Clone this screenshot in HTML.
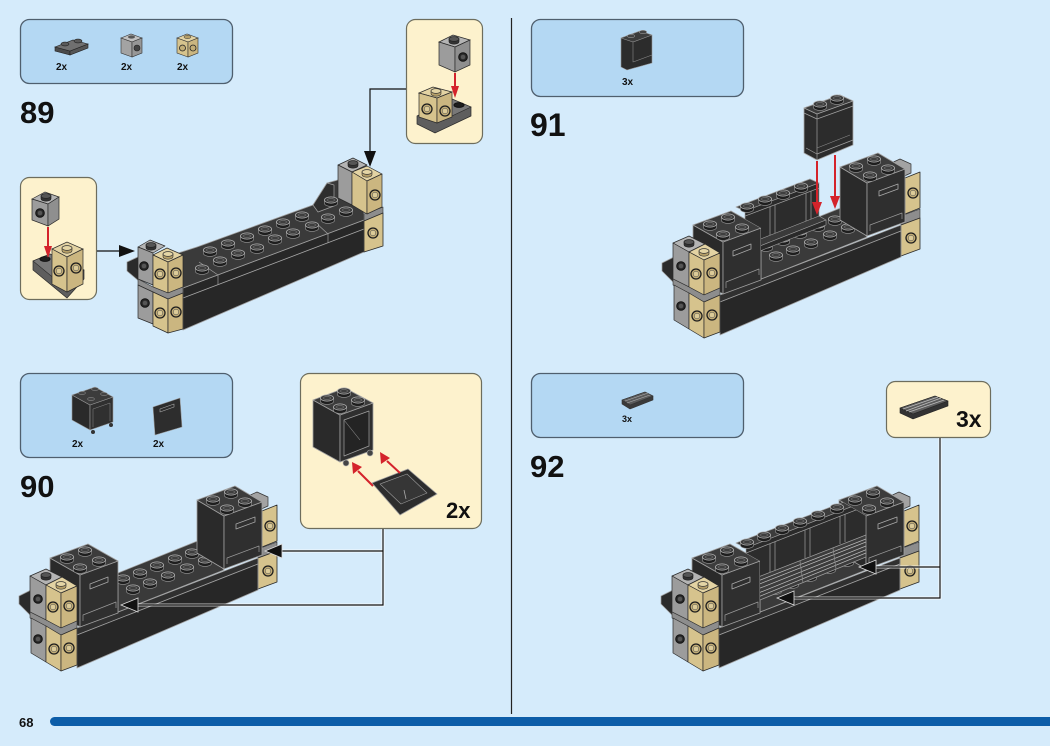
<!DOCTYPE html>
<html><head><meta charset="utf-8"><style>
html,body{margin:0;padding:0;background:#d5ebfb;}
svg{display:block;font-family:"Liberation Sans",sans-serif;}
</style></head><body>
<svg width="1050" height="746" viewBox="0 0 1050 746" xmlns="http://www.w3.org/2000/svg" xmlns:xlink="http://www.w3.org/1999/xlink">
<defs>
 <g id="st">
  <path d="M-6.6 0v3.3a6.6 3.1 0 0 0 13.2 0V0z" fill="#1e1e1e" stroke="#9a9a9a" stroke-width=".6"/>
  <ellipse rx="6.6" ry="3.1" fill="#3e3e3e" stroke="#b0b0b0" stroke-width=".7"/>
  <ellipse rx="3.5" ry="1.6" fill="none" stroke="#7a7a7a" stroke-width=".6"/>
 </g>
 <g id="tt">
  <path d="M-5 0v2.8a5 2.4 0 0 0 10 0V0z" fill="#b59f68" stroke="#333" stroke-width=".6"/>
  <ellipse rx="5" ry="2.4" fill="#e4d5a5" stroke="#333" stroke-width=".7"/>
 </g>
 <g id="gt">
  <path d="M-5 0v2.8a5 2.4 0 0 0 10 0V0z" fill="#333" stroke="#222" stroke-width=".6"/>
  <ellipse rx="5" ry="2.4" fill="#555" stroke="#222" stroke-width=".7"/>
 </g>
 <g id="ts"><circle r="5" fill="#c2ad76" stroke="#1e1e1e" stroke-width="1.3"/><circle r="2.8" fill="#dccb98" stroke="#444" stroke-width=".5"/></g>
 <g id="ks"><circle r="4.3" fill="#2a2a2a" stroke="#111" stroke-width="1"/><circle r="2.3" fill="#555"/></g>

 <g id="b90a" stroke-linejoin="round">
  <polygon points="246,497 257,492 268,497 268,506 257,511 246,506" fill="#a3a3a3" stroke="#333" stroke-width=".7"/>
  <polygon points="262,511 277,505 277,541 262,547" fill="#d6c38d" stroke="#2a2a2a" stroke-width=".8"/>
  <use xlink:href="#ts" x="270" y="526"/>
  <polygon points="258,549 277,542 277,551 258,558" fill="#8d8d8d" stroke="#333" stroke-width=".6"/>
  <polygon points="258,558 277,551 277,582 258,589" fill="#d6c38d" stroke="#2a2a2a" stroke-width=".8"/>
  <use xlink:href="#ts" x="268" y="571"/>
  <polygon points="77,628 258,558 258,564 77,635" fill="#303030" stroke="#a0a0a0" stroke-width=".7"/>
  <polygon points="77,635 258,564 258,590 77,668" fill="#272727" stroke="#a0a0a0" stroke-width=".8"/>
  <polygon points="118,573 200,540 224,570 118,612" fill="#3a3a3a" stroke="#a0a0a0" stroke-width=".7"/>
  <use xlink:href="#st" x="123" y="578"/><use xlink:href="#st" x="140" y="572"/><use xlink:href="#st" x="157" y="565"/><use xlink:href="#st" x="175" y="558"/><use xlink:href="#st" x="192" y="552"/>
  <use xlink:href="#st" x="133" y="588"/><use xlink:href="#st" x="150" y="582"/><use xlink:href="#st" x="168" y="575"/><use xlink:href="#st" x="187" y="567"/><use xlink:href="#st" x="205" y="560"/>
 </g>
 <g id="b90b" stroke-linejoin="round">
  <polygon points="197,500 224,516 224,569 197,553" fill="#2a2a2a" stroke="#a0a0a0" stroke-width=".8"/>
  <polygon points="224,516 262,502 262,555 224,569" fill="#2f2f2f" stroke="#a0a0a0" stroke-width=".8"/>
  <polygon points="197,500 224,516 262,502 235,486" fill="#3c3c3c" stroke="#a0a0a0" stroke-width=".8"/>
  <polygon points="236,524 255,517 255,522 236,529" fill="none" stroke="#a8a8a8" stroke-width=".8"/>
  <polyline points="227,564 227,558 259,546 259,552" fill="none" stroke="#9a9a9a" stroke-width=".7"/>
  <use xlink:href="#st" x="213" y="499"/><use xlink:href="#st" x="231" y="492"/><use xlink:href="#st" x="227" y="508"/><use xlink:href="#st" x="245" y="501"/>

  <polygon points="50,558 80,575 80,627 50,610" fill="#2a2a2a" stroke="#a0a0a0" stroke-width=".8"/>
  <polygon points="80,575 118,561 118,613 80,627" fill="#2f2f2f" stroke="#a0a0a0" stroke-width=".8"/>
  <polygon points="50,558 80,575 118,561 88,544" fill="#3c3c3c" stroke="#a0a0a0" stroke-width=".8"/>
  <polygon points="90,584 108,577 108,582 90,589" fill="none" stroke="#a8a8a8" stroke-width=".8"/>
  <polyline points="83,621 83,615 116,602 116,608" fill="none" stroke="#9a9a9a" stroke-width=".7"/>
  <use xlink:href="#st" x="67" y="557"/><use xlink:href="#st" x="85" y="550"/><use xlink:href="#st" x="80" y="567"/><use xlink:href="#st" x="99" y="560"/>

  <polygon points="19,596 31,590 46,597 46,613 31,616 19,604" fill="#2b2b2b" stroke="#a0a0a0" stroke-width=".7"/>
  <polygon points="30,576 46,569 62,577 46,585" fill="#b4b4b4" stroke="#2a2a2a" stroke-width=".7"/>
  <polygon points="30,576 46,585 46,620 30,612" fill="#9c9c9c" stroke="#2a2a2a" stroke-width=".7"/>
  <use xlink:href="#gt" x="46" y="575"/><use xlink:href="#ks" x="38" y="599"/>
  <polygon points="46,585 62,577 77,586 61,593" fill="#e3d3a3" stroke="#2a2a2a" stroke-width=".7"/>
  <polygon points="46,585 61,593 61,628 46,620" fill="#d6c38d" stroke="#2a2a2a" stroke-width=".7"/>
  <polygon points="61,593 77,586 77,621 61,628" fill="#cbb680" stroke="#2a2a2a" stroke-width=".7"/>
  <use xlink:href="#tt" x="61" y="584"/><use xlink:href="#ts" x="53" y="607"/><use xlink:href="#ts" x="69" y="606"/>
  <polygon points="30,612 46,620 61,628 77,621 77,628 61,635 30,618" fill="#8d8d8d" stroke="#333" stroke-width=".6"/>
  <polygon points="31,618 46,626 46,662 31,653" fill="#9c9c9c" stroke="#2a2a2a" stroke-width=".7"/>
  <use xlink:href="#ks" x="38" y="639"/>
  <polygon points="46,626 61,635 61,671 46,662" fill="#d6c38d" stroke="#2a2a2a" stroke-width=".7"/>
  <polygon points="61,635 77,628 77,665 61,671" fill="#cbb680" stroke="#2a2a2a" stroke-width=".7"/>
  <use xlink:href="#ts" x="54" y="649"/><use xlink:href="#ts" x="69" y="648"/>
 </g>
 <clipPath id="c91"><polygon points="731,0 840,0 840,400 761,400 761,228 731,211"/></clipPath>
 <clipPath id="c92"><polygon points="730,400 839,400 839,500 866,516 866,700 760,700 760,561 730,544"/></clipPath>
</defs>

<rect width="1050" height="746" fill="#d5ebfb"/>

<line x1="511.5" y1="18" x2="511.5" y2="714" stroke="#222" stroke-width="1.2"/>
<rect x="50" y="717" width="1020" height="9" rx="4.5" fill="#0c5da8"/>
<text x="19" y="727" font-size="13" font-weight="bold" fill="#111">68</text>

<!-- STEP 89 -->
<rect x="20.5" y="19.5" width="212" height="64" rx="9" fill="#b4d8f3" stroke="#4f5f6e" stroke-width="1.3"/>
<polygon points="55,47 70,51 70,55 55,51" fill="#4a4a4a" stroke="#222" stroke-width=".6"/>
<polygon points="70,51 88,44 88,48 70,55" fill="#555" stroke="#222" stroke-width=".6"/>
<polygon points="55,47 73,40 88,44 70,51" fill="#707070" stroke="#222" stroke-width=".6"/>
<ellipse cx="65" cy="44" rx="4" ry="1.9" fill="#5a5a5a" stroke="#222" stroke-width=".6"/>
<ellipse cx="78" cy="41" rx="4" ry="1.9" fill="#5a5a5a" stroke="#222" stroke-width=".6"/>
<polygon points="121,38 131,34 142,38 132,42" fill="#c0c0c0" stroke="#333" stroke-width=".6"/>
<polygon points="121,38 132,42 132,57 121,53" fill="#a3a3a3" stroke="#333" stroke-width=".6"/>
<polygon points="132,42 142,38 142,53 132,57" fill="#979797" stroke="#333" stroke-width=".6"/>
<ellipse cx="131.5" cy="37" rx="3.5" ry="1.6" fill="#555"/>
<circle cx="137" cy="48" r="3" fill="#444" stroke="#222" stroke-width=".6"/>
<polygon points="177,38 187,34 198,38 188,42" fill="#e3d3a3" stroke="#333" stroke-width=".6"/>
<polygon points="177,38 188,42 188,57 177,53" fill="#d6c38d" stroke="#333" stroke-width=".6"/>
<polygon points="188,42 198,38 198,53 188,57" fill="#cbb680" stroke="#333" stroke-width=".6"/>
<ellipse cx="187.5" cy="37" rx="3.5" ry="1.6" fill="#b59f68" stroke="#333" stroke-width=".5"/>
<circle cx="182.5" cy="48" r="3" fill="#c2ad76" stroke="#222" stroke-width=".8"/>
<circle cx="193" cy="48" r="3" fill="#c2ad76" stroke="#222" stroke-width=".8"/>
<text x="56" y="70" font-size="10" font-weight="bold" fill="#111">2x</text>
<text x="121" y="70" font-size="10" font-weight="bold" fill="#111">2x</text>
<text x="177" y="70" font-size="10" font-weight="bold" fill="#111">2x</text>
<text x="20" y="123" font-size="31" font-weight="bold" fill="#111">89</text>

<rect x="20.5" y="177.5" width="76" height="122" rx="9" fill="#fdf2cd" stroke="#6d6d5d" stroke-width="1.2"/>
<polygon points="32,199 45,192 59,197 48,204" fill="#b4b4b4" stroke="#2a2a2a" stroke-width=".7"/>
<polygon points="32,199 48,204 48,226 32,220" fill="#9c9c9c" stroke="#2a2a2a" stroke-width=".7"/>
<polygon points="48,204 59,197 59,219 48,226" fill="#8f8f8f" stroke="#2a2a2a" stroke-width=".7"/>
<use xlink:href="#gt" x="46" y="196"/><use xlink:href="#ks" x="40" y="213"/>
<polygon points="33,261 50,254 84,270 84,279 67,298 33,270" fill="#5e5e5e" stroke="#2a2a2a" stroke-width=".7"/>
<polygon points="33,261 50,254 84,270 67,289" fill="#787878" stroke="#2a2a2a" stroke-width=".6"/>
<ellipse cx="45" cy="259" rx="5" ry="2.4" fill="#1e1e1e" stroke="#111"/>
<polygon points="52,249 67,242 83,249 67,257" fill="#e3d3a3" stroke="#2a2a2a" stroke-width=".7"/>
<polygon points="52,249 67,257 67,292 52,284" fill="#d6c38d" stroke="#2a2a2a" stroke-width=".7"/>
<polygon points="67,257 83,249 83,284 67,292" fill="#cbb680" stroke="#2a2a2a" stroke-width=".7"/>
<use xlink:href="#tt" x="67" y="248"/><use xlink:href="#ts" x="59" y="271"/><use xlink:href="#ts" x="76" y="268"/>
<line x1="48" y1="227" x2="48" y2="248" stroke="#d4232b" stroke-width="2"/>
<polygon points="44,246 48,258 52,246" fill="#d4232b"/>

<rect x="406.5" y="19.5" width="76" height="124" rx="9" fill="#fdf2cd" stroke="#6d6d5d" stroke-width="1.2"/>
<polygon points="439,42 453,35 470,40 455,47" fill="#b4b4b4" stroke="#2a2a2a" stroke-width=".7"/>
<polygon points="439,42 455,47 455,72 439,65" fill="#9c9c9c" stroke="#2a2a2a" stroke-width=".7"/>
<polygon points="455,47 470,40 470,65 455,72" fill="#8f8f8f" stroke="#2a2a2a" stroke-width=".7"/>
<use xlink:href="#gt" x="454" y="39"/><use xlink:href="#ks" x="463" y="57"/>
<polygon points="417,116 452,99 471,107 471,116 435,133 417,124" fill="#5e5e5e" stroke="#2a2a2a" stroke-width=".7"/>
<polygon points="419,115 452,99 471,107 437,123" fill="#787878" stroke="#2a2a2a" stroke-width=".6"/>
<ellipse cx="459" cy="105" rx="5" ry="2.4" fill="#1e1e1e" stroke="#111"/>
<polygon points="419,93 433,87 452,92 437,98" fill="#e3d3a3" stroke="#2a2a2a" stroke-width=".7"/>
<polygon points="419,93 437,98 437,123 419,117" fill="#d6c38d" stroke="#2a2a2a" stroke-width=".7"/>
<polygon points="437,98 452,92 452,117 437,123" fill="#cbb680" stroke="#2a2a2a" stroke-width=".7"/>
<use xlink:href="#tt" x="436" y="91"/><use xlink:href="#ts" x="427" y="109"/><use xlink:href="#ts" x="445" y="111"/>
<line x1="455" y1="73" x2="455" y2="88" stroke="#d4232b" stroke-width="2"/>
<polygon points="451,86 455,98 459,86" fill="#d4232b"/>

<line x1="97" y1="251" x2="122" y2="251" stroke="#111" stroke-width="1.2"/>
<polygon points="119,245 135,251 119,257" fill="#111"/>
<polyline points="406,89 370,89 370,153" fill="none" stroke="#111" stroke-width="1.2"/>
<polygon points="364,151 370,167 376,151" fill="#111"/>

<g stroke-linejoin="round">
 <polygon points="127,262 140,256 140,282 127,271" fill="#2b2b2b" stroke="#a0a0a0" stroke-width=".7"/>
 <polygon points="183,288 364,220 364,252 183,330" fill="#272727" stroke="#a0a0a0" stroke-width=".8"/>
 <line x1="183" y1="298" x2="364" y2="229" stroke="#a8a8a8" stroke-width=".8"/>
 <line x1="218" y1="275" x2="218" y2="285" stroke="#a0a0a0" stroke-width=".7"/>
 <line x1="328" y1="234" x2="328" y2="243" stroke="#a0a0a0" stroke-width=".7"/>
 <polygon points="150,262 197,247 313,205 327,183 345,178 364,190 364,220 183,288 160,282" fill="#3a3a3a" stroke="#a0a0a0" stroke-width=".8"/>
 <polygon points="313,205 327,183 334,185 334,206 318,212" fill="#2e2e2e" stroke="#a0a0a0" stroke-width=".7"/>
 <line x1="218" y1="275" x2="199" y2="262" stroke="#a0a0a0" stroke-width=".7"/>
 <line x1="328" y1="234" x2="315" y2="222" stroke="#a0a0a0" stroke-width=".7"/>
 <use xlink:href="#st" x="210" y="250"/><use xlink:href="#st" x="228" y="243"/><use xlink:href="#st" x="247" y="236"/><use xlink:href="#st" x="265" y="229"/><use xlink:href="#st" x="283" y="222"/><use xlink:href="#st" x="302" y="215"/>
 <use xlink:href="#st" x="202" y="268"/><use xlink:href="#st" x="220" y="260"/><use xlink:href="#st" x="238" y="253"/><use xlink:href="#st" x="257" y="247"/><use xlink:href="#st" x="275" y="238"/><use xlink:href="#st" x="293" y="232"/><use xlink:href="#st" x="312" y="225"/>
 <use xlink:href="#st" x="331" y="200"/><use xlink:href="#st" x="328" y="217"/><use xlink:href="#st" x="346" y="210"/>
 <polygon points="364,214 383,207 383,213 364,221" fill="#8d8d8d" stroke="#333" stroke-width=".6"/>
 <polygon points="364,221 383,213 383,246 364,252" fill="#d6c38d" stroke="#2a2a2a" stroke-width=".8"/>
 <use xlink:href="#ts" x="373" y="233"/>
 <polygon points="338,165 353,158 367,165 352,172" fill="#b4b4b4" stroke="#2a2a2a" stroke-width=".7"/>
 <polygon points="338,165 352,172 352,205 338,198" fill="#9c9c9c" stroke="#2a2a2a" stroke-width=".7"/>
 <use xlink:href="#gt" x="353" y="163"/>
 <polygon points="352,172 367,166 382,174 367,181" fill="#e3d3a3" stroke="#2a2a2a" stroke-width=".7"/>
 <polygon points="352,172 367,181 367,214 352,205" fill="#d6c38d" stroke="#2a2a2a" stroke-width=".7"/>
 <polygon points="367,181 382,174 382,207 367,214" fill="#cbb680" stroke="#2a2a2a" stroke-width=".7"/>
 <use xlink:href="#tt" x="367" y="172"/><use xlink:href="#ts" x="375" y="195"/>
 <polygon points="138,247 150,240 165,246 153,253" fill="#b4b4b4" stroke="#2a2a2a" stroke-width=".7"/>
 <polygon points="138,247 153,253 153,285 138,279" fill="#9c9c9c" stroke="#2a2a2a" stroke-width=".7"/>
 <use xlink:href="#gt" x="151" y="245"/><use xlink:href="#ks" x="144" y="266"/>
 <polygon points="153,255 167,248 183,255 168,262" fill="#e3d3a3" stroke="#2a2a2a" stroke-width=".7"/>
 <polygon points="153,255 168,262 168,293 153,287" fill="#d6c38d" stroke="#2a2a2a" stroke-width=".7"/>
 <polygon points="168,262 183,255 183,287 168,293" fill="#cbb680" stroke="#2a2a2a" stroke-width=".7"/>
 <use xlink:href="#tt" x="168" y="254"/><use xlink:href="#ts" x="160" y="274"/><use xlink:href="#ts" x="176" y="273"/>
 <polygon points="138,279 153,287 168,293 183,287 183,293 168,299 138,285" fill="#8d8d8d" stroke="#333" stroke-width=".6"/>
 <polygon points="138,285 153,292 153,324 138,318" fill="#9c9c9c" stroke="#2a2a2a" stroke-width=".7"/>
 <use xlink:href="#ks" x="145" y="303"/>
 <polygon points="153,292 168,299 168,333 153,326" fill="#d6c38d" stroke="#2a2a2a" stroke-width=".7"/>
 <polygon points="168,299 183,293 183,329 168,333" fill="#cbb680" stroke="#2a2a2a" stroke-width=".7"/>
 <use xlink:href="#ts" x="160" y="313"/><use xlink:href="#ts" x="176" y="312"/>
</g>

<!-- STEP 90 -->
<rect x="20.5" y="373.5" width="212" height="84" rx="9" fill="#b4d8f3" stroke="#4f5f6e" stroke-width="1.3"/>
<g stroke-linejoin="round">
 <polygon points="72,395 90,405 90,430 72,420" fill="#2a2a2a" stroke="#999" stroke-width=".6"/>
 <polygon points="90,405 113,397 113,422 90,430" fill="#303030" stroke="#999" stroke-width=".6"/>
 <polyline points="93,427 93,409 110,403 110,421" fill="none" stroke="#888" stroke-width=".5"/>
 <polygon points="72,395 90,405 113,397 95,387" fill="#3c3c3c" stroke="#999" stroke-width=".6"/>
 <ellipse cx="82" cy="393" rx="3.5" ry="1.6" fill="#444" stroke="#999" stroke-width=".5"/>
 <ellipse cx="95" cy="389" rx="3.5" ry="1.6" fill="#444" stroke="#999" stroke-width=".5"/>
 <ellipse cx="91" cy="399" rx="3.5" ry="1.6" fill="#444" stroke="#999" stroke-width=".5"/>
 <ellipse cx="104" cy="394" rx="3.5" ry="1.6" fill="#444" stroke="#999" stroke-width=".5"/>
 <circle cx="93" cy="432" r="2" fill="#333"/><circle cx="111" cy="425" r="2" fill="#333"/>
 <polygon points="153,407 180,398 182,427 155,435" fill="#2d2d2d" stroke="#999" stroke-width=".6"/>
 <polygon points="160,409 174,404 174,407 160,412" fill="none" stroke="#aaa" stroke-width=".6"/>
</g>
<text x="72" y="447" font-size="10" font-weight="bold" fill="#111">2x</text>
<text x="153" y="447" font-size="10" font-weight="bold" fill="#111">2x</text>
<text x="20" y="497" font-size="31" font-weight="bold" fill="#111">90</text>

<rect x="300.5" y="373.5" width="181" height="155" rx="9" fill="#fdf2cd" stroke="#6d6d5d" stroke-width="1.2"/>
<g stroke-linejoin="round">
 <polygon points="313,400 340,415 340,462 313,447" fill="#2a2a2a" stroke="#a0a0a0" stroke-width=".8"/>
 <polygon points="340,415 373,403 373,450 340,462" fill="#2f2f2f" stroke="#a0a0a0" stroke-width=".8"/>
 <polygon points="344,420 369,411 369,446 344,456" fill="#242424" stroke="#a0a0a0" stroke-width=".7"/>
 <line x1="344" y1="420" x2="360" y2="440" stroke="#888" stroke-width=".6"/>
 <polygon points="313,400 340,415 373,403 345,388" fill="#3c3c3c" stroke="#a0a0a0" stroke-width=".8"/>
 <use xlink:href="#st" x="327" y="398"/><use xlink:href="#st" x="344" y="391"/><use xlink:href="#st" x="340" y="407"/><use xlink:href="#st" x="358" y="400"/>
 <circle cx="346" cy="463" r="3" fill="#444" stroke="#aaa" stroke-width=".6"/><circle cx="370" cy="453" r="3" fill="#444" stroke="#aaa" stroke-width=".6"/>
 <polygon points="372,483 408,469 437,494 400,515" fill="#2d2d2d" stroke="#a0a0a0" stroke-width=".8"/>
 <polygon points="380,484 407,474 427,493 401,504" fill="#363636" stroke="#999" stroke-width=".6"/>
 <line x1="404" y1="490" x2="406" y2="499" stroke="#aaa" stroke-width=".8"/>
 <line x1="373" y1="486" x2="358" y2="471" stroke="#d4232b" stroke-width="2"/>
 <polygon points="353,474 352,462 362,467" fill="#d4232b"/>
 <line x1="400" y1="473" x2="387" y2="461" stroke="#d4232b" stroke-width="2"/>
 <polygon points="381,464 380,452 390,458" fill="#d4232b"/>
</g>
<text x="446" y="518" font-size="22" font-weight="bold" fill="#111">2x</text>

<use xlink:href="#b90a"/>
<use xlink:href="#b90b"/>

<g>
 <polyline points="383,529 383,605 136,605" fill="none" stroke="#fff" stroke-width="3" opacity=".7"/>
 <line x1="383" y1="551" x2="280" y2="551" stroke="#fff" stroke-width="3" opacity=".7"/>
 <polyline points="383,529 383,605 136,605" fill="none" stroke="#111" stroke-width="1.2"/>
 <line x1="383" y1="551" x2="280" y2="551" stroke="#111" stroke-width="1.2"/>
 <polygon points="138,598 121,605 138,612" fill="#111" stroke="#ddd" stroke-width=".8"/>
 <polygon points="282,544 265,551 282,558" fill="#111" stroke="#ddd" stroke-width=".8"/>
</g>

<!-- STEP 91 -->
<rect x="531.5" y="19.5" width="212" height="77" rx="9" fill="#b4d8f3" stroke="#4f5f6e" stroke-width="1.3"/>
<g stroke-linejoin="round">
 <polygon points="621,38 640,31 652,35 652,63 627,70 621,67" fill="#2c2c2c" stroke="#999" stroke-width=".6"/>
 <polygon points="621,38 640,31 652,35 633,42" fill="#3c3c3c" stroke="#999" stroke-width=".6"/>
 <polyline points="633,42 633,62 652,55" fill="none" stroke="#888" stroke-width=".6"/>
 <ellipse cx="631" cy="36" rx="3.8" ry="1.7" fill="#444" stroke="#aaa" stroke-width=".5"/>
 <ellipse cx="643" cy="32" rx="3.8" ry="1.7" fill="#444" stroke="#aaa" stroke-width=".5"/>
</g>
<text x="622" y="85" font-size="10" font-weight="bold" fill="#111">3x</text>
<text x="530" y="136" font-size="32" font-weight="bold" fill="#111">91</text>

<use xlink:href="#b90a" transform="translate(643,-333)"/>
<use xlink:href="#b90b" transform="translate(643,-333)"/>
<g clip-path="url(#c91)" stroke-linejoin="round">
 <polygon points="745,216 819,188 819,218 745,246" fill="#2c2c2c" stroke="#a0a0a0" stroke-width=".7"/>
 <polygon points="748,244 819,216 826,220 755,248" fill="#3a3a3a" stroke="#a0a0a0" stroke-width=".6"/>
 <polygon points="755,248 826,220 826,225 755,253" fill="#2a2a2a" stroke="#a0a0a0" stroke-width=".6"/>
 <line x1="770" y1="207" x2="770" y2="235" stroke="#a0a0a0" stroke-width=".7"/>
 <line x1="775" y1="205" x2="775" y2="233" stroke="#a0a0a0" stroke-width=".7"/>
 <line x1="806" y1="193" x2="806" y2="221" stroke="#a0a0a0" stroke-width=".7"/>
 <line x1="811" y1="191" x2="811" y2="219" stroke="#a0a0a0" stroke-width=".7"/>
 <polygon points="736,207 810,179 819,183 745,211" fill="#3c3c3c" stroke="#a0a0a0" stroke-width=".7"/>
 <polygon points="745,211 819,183 819,188 745,216" fill="#2a2a2a" stroke="#a0a0a0" stroke-width=".6"/>
 <use xlink:href="#st" x="747" y="206"/><use xlink:href="#st" x="765" y="199"/><use xlink:href="#st" x="783" y="193"/><use xlink:href="#st" x="801" y="186"/>
</g>
<g stroke-linejoin="round">
 <polygon points="804,108 840,95 853,101 853,145 817,160 804,153" fill="#2c2c2c" stroke="#a8a8a8" stroke-width=".8"/>
 <polygon points="804,108 840,95 853,101 817,114" fill="#3c3c3c" stroke="#a8a8a8" stroke-width=".7"/>
 <polyline points="804,113 817,119 853,106" fill="none" stroke="#a0a0a0" stroke-width=".7"/>
 <line x1="817" y1="114" x2="817" y2="160" stroke="#a0a0a0" stroke-width=".7"/>
 <polyline points="806,148 817,154 853,140" fill="none" stroke="#a0a0a0" stroke-width=".7"/>
 <line x1="817" y1="148" x2="850" y2="135" stroke="#8a8a8a" stroke-width=".6"/>
 <use xlink:href="#st" x="820" y="104"/><use xlink:href="#st" x="837" y="98"/>
 <line x1="817" y1="161" x2="817" y2="204" stroke="#d4232b" stroke-width="2"/>
 <polygon points="812,202 817,215 822,202" fill="#d4232b"/>
 <line x1="835" y1="155" x2="835" y2="198" stroke="#d4232b" stroke-width="2"/>
 <polygon points="830,196 835,209 840,196" fill="#d4232b"/>
</g>

<!-- STEP 92 -->
<rect x="531.5" y="373.5" width="212" height="64" rx="9" fill="#b4d8f3" stroke="#4f5f6e" stroke-width="1.3"/>
<g stroke-linejoin="round">
 <polygon points="622,400 645,392 653,396 653,400 630,409 622,404" fill="#3a3a3a" stroke="#333" stroke-width=".6"/>
 <polygon points="622,400 645,392 653,396 630,405" fill="#5a5a5a" stroke="#333" stroke-width=".6"/>
 <line x1="625" y1="401" x2="648" y2="393" stroke="#aaa" stroke-width=".6"/>
 <line x1="627" y1="403" x2="650" y2="395" stroke="#aaa" stroke-width=".6"/>
</g>
<text x="622" y="422" font-size="9" font-weight="bold" fill="#111">3x</text>
<text x="530" y="477" font-size="31" font-weight="bold" fill="#111">92</text>

<rect x="886.5" y="381.5" width="104" height="56" rx="9" fill="#fdf2cd" stroke="#6d6d5d" stroke-width="1.2"/>
<g stroke-linejoin="round">
 <polygon points="900,408 935,396 948,401 948,406 913,419 900,413" fill="#333" stroke="#222" stroke-width=".6"/>
 <polygon points="900,408 935,396 948,401 913,414" fill="#5c5c5c" stroke="#222" stroke-width=".6"/>
 <line x1="903" y1="409" x2="938" y2="397" stroke="#bbb" stroke-width=".8"/>
 <line x1="906" y1="411" x2="941" y2="398" stroke="#bbb" stroke-width=".8"/>
 <line x1="909" y1="412" x2="944" y2="400" stroke="#bbb" stroke-width=".8"/>
</g>
<text x="956" y="427" font-size="23" font-weight="bold" fill="#111">3x</text>

<use xlink:href="#b90a" transform="translate(642,0)"/>
<use xlink:href="#b90b" transform="translate(642,0)"/>
<g clip-path="url(#c92)" stroke-linejoin="round">
 <polygon points="746,553 866,506 866,536 746,583" fill="#2c2c2c" stroke="#a0a0a0" stroke-width=".7"/>
 <polygon points="748,581 866,535 866,557 760,600" fill="#3c3c3c" stroke="#a0a0a0" stroke-width=".7"/>
 <line x1="750" y1="584" x2="866" y2="539" stroke="#bdbdbd" stroke-width=".7"/>
 <line x1="752" y1="587" x2="866" y2="542" stroke="#bdbdbd" stroke-width=".7"/>
 <line x1="754" y1="590.5" x2="866" y2="546" stroke="#bdbdbd" stroke-width=".7"/>
 <line x1="756" y1="594" x2="866" y2="549.7" stroke="#bdbdbd" stroke-width=".7"/>
 <line x1="758" y1="597" x2="866" y2="553" stroke="#bdbdbd" stroke-width=".7"/>
 <line x1="800" y1="561" x2="803" y2="583" stroke="#8a8a8a" stroke-width=".8"/>
 <line x1="833" y1="548" x2="836" y2="569" stroke="#8a8a8a" stroke-width=".8"/>
 <line x1="770" y1="544" x2="770" y2="572" stroke="#a0a0a0" stroke-width=".7"/>
 <line x1="775" y1="542" x2="775" y2="570" stroke="#a0a0a0" stroke-width=".7"/>
 <line x1="805" y1="530" x2="805" y2="558" stroke="#a0a0a0" stroke-width=".7"/>
 <line x1="810" y1="528" x2="810" y2="556" stroke="#a0a0a0" stroke-width=".7"/>
 <line x1="840" y1="516" x2="840" y2="544" stroke="#a0a0a0" stroke-width=".7"/>
 <line x1="845" y1="514" x2="845" y2="542" stroke="#a0a0a0" stroke-width=".7"/>
 <polygon points="736,543 857,497 866,501 746,548" fill="#3c3c3c" stroke="#a0a0a0" stroke-width=".7"/>
 <polygon points="746,548 866,501 866,506 746,553" fill="#2a2a2a" stroke="#a0a0a0" stroke-width=".6"/>
 <use xlink:href="#st" x="747" y="542"/><use xlink:href="#st" x="764" y="535"/><use xlink:href="#st" x="782" y="528"/><use xlink:href="#st" x="800" y="521"/><use xlink:href="#st" x="818" y="514"/><use xlink:href="#st" x="837" y="507"/>
</g>

<g>
 <polyline points="940,438 940,598 792,598" fill="none" stroke="#fff" stroke-width="3" opacity=".7"/>
 <line x1="940" y1="567" x2="874" y2="567" stroke="#fff" stroke-width="3" opacity=".7"/>
 <polyline points="940,438 940,598 792,598" fill="none" stroke="#111" stroke-width="1.2"/>
 <line x1="940" y1="567" x2="874" y2="567" stroke="#111" stroke-width="1.2"/>
 <polygon points="794,591 777,598 794,605" fill="#111" stroke="#ddd" stroke-width=".8"/>
 <polygon points="876,560 859,567 876,574" fill="#111" stroke="#ddd" stroke-width=".8"/>
</g>
</svg>
</body></html>
